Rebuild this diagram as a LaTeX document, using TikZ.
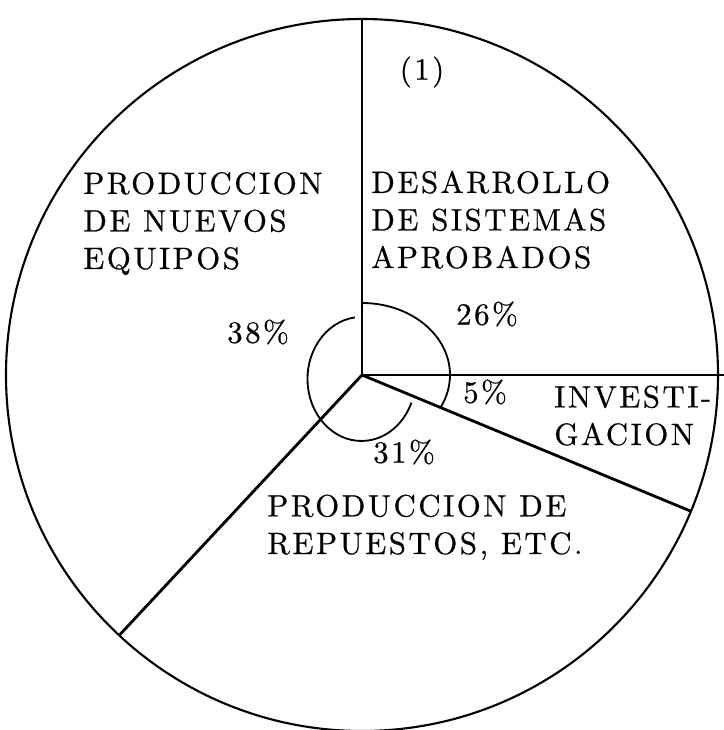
\documentclass[tikz,border=0pt]{standalone}
\usepackage{fontspec}
\newfontfamily\capsfont[LetterSpace=8,FakeBold=0.6]{lmroman10-regular.otf}

\tikzset{
  rim/.style={line width=1.5pt},
  spoke/.style={line width=2pt},
  inner/.style={line width=1.3pt},
  caps/.style={font=\capsfont\fontsize{22}{26.7}\selectfont},
  sector/.style={caps, inner sep=0pt, align=left, anchor=base west},
  share/.style={caps, inner sep=0pt}
}

\begin{document}
\begin{tikzpicture}
\useasboundingbox (-9.05,-8.875) rectangle (9.025,9.375);

% pie
\coordinate (o) at (0,0);
\draw[rim] (o) circle (8.9);
\coordinate (r90) at (90:8.9);
\coordinate (r0) at (0:9.1);
\coordinate (r338) at (-22.5:8.9);
\coordinate (r227) at (-133:8.9);
\draw[spoke] (o) -- (r90);
\draw[spoke] (o) -- (r0);
\draw[spoke] (o) -- (r338);
\draw[spoke] (o) -- (r227);

% angle marks
\draw[inner] (o) ++(0,1.8) arc[start angle=90, end angle=-27, x radius=2.2, y radius=1.8];
\draw[inner] (o) ++(97:1.45) arc[start angle=97, end angle=337.5, x radius=1.35, y radius=1.55];

% texts (anchored at the last line)
\node[share] (note) at (1.5,7.575) {(1)};
\node[sector] (nuevos) at (-6.975,2.65) {PRODUCCION\\DE NUEVOS\\EQUIPOS};
\node[sector] (desarrollo) at (0.225,2.675) {DESARROLLO\\DE SISTEMAS\\APROBADOS};
\node[sector] (investigacion) at (4.8,-1.75) {INVESTI-\\GACION};
\node[sector] (repuestos) at (-2.375,-4.475) {PRODUCCION DE\\REPUESTOS, ETC.};

\node[share] (p26) at (3.125,1.525) {26\%};
\node[share] (p38) at (-2.6,1.075) {38\%};
\node[share] (p5) at (3.075,-0.425) {5\%};
\node[share] (p31) at (1.05,-1.925) {31\%};
\end{tikzpicture}
\end{document}
